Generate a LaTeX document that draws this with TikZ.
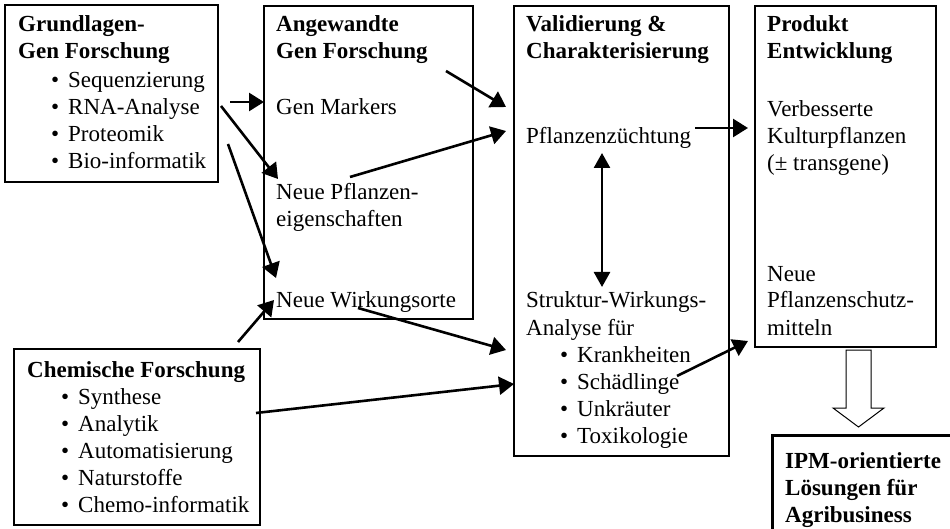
\documentclass[tikz,border=0pt]{standalone}
\usepackage{fontspec}
\setmainfont{Liberation Serif}
\usetikzlibrary{arrows.meta}
\tikzset{
  txt/.style={anchor=base west,inner sep=0pt,font=\fontsize{23}{27}\selectfont},
  btxt/.style={txt,font=\fontsize{23}{27}\selectfont\bfseries},
  boxline/.style={draw=black,line width=1.2pt},
  arr/.style={line width=2.6pt,-{Triangle[length=15pt,width=18pt]}},
  darr/.style={line width=2.6pt,{Triangle[length=15pt,width=16pt]}-{Triangle[length=15pt,width=16pt]}},
  hollow/.style={draw=black,line width=1pt,fill=white,line join=miter}
}
\begin{document}
\begin{tikzpicture}[x=1pt,y=-1pt]
\useasboundingbox (0,0) rectangle (950,529);
% boxes
\draw[boxline] (5,5) rectangle (218,182);
\draw[boxline] (264,6) rectangle (473,319);
\draw[boxline] (514,6) rectangle (729,456);
\draw[boxline] (755,6) rectangle (936,347);
\draw[boxline] (14,349) rectangle (260,525);
\begin{scope}
\clip (0,0) rectangle (950,529);
\draw[draw=black,line width=3pt] (772,435) rectangle (970,560);
\end{scope}
% box 1
\node[btxt] (g1) at (18,32) {Grundlagen-};
\node[btxt] (g2) at (18,59) {Gen Forschung};
\foreach \t/\y [count=\i] in {Sequenzierung/88,RNA-Analyse/115,Proteomik/142,Bio-informatik/169}{
  \node[txt] (gb\i) at (51,\y) {•};
  \node[txt] (gi\i) at (68,\y) {\t};
}
% box 2
\node[btxt] (a1) at (276,32) {Angewandte};
\node[btxt] (a2) at (276,59) {Gen Forschung};
\node[txt] (gm) at (276,115) {Gen Markers};
\node[txt] (np1) at (276,200) {Neue Pflanzen-};
\node[txt] (np2) at (276,227) {eigenschaften};
\node[txt] (nw) at (276,308) {Neue Wirkungsorte};
% box 3
\node[btxt] (v1) at (526,32) {Validierung \&};
\node[btxt] (v2) at (526,59) {Charakterisierung};
\node[txt] (pz) at (526,144) {Pflanzenzüchtung};
\node[txt] (sw1) at (526,308) {Struktur-Wirkungs-};
\node[txt] (sw2) at (526,335) {Analyse für};
\foreach \t/\y [count=\i] in {Krankheiten/362,Schädlinge/389,Unkräuter/416,Toxikologie/443}{
  \node[txt] (vb\i) at (560,\y) {•};
  \node[txt] (vi\i) at (577,\y) {\t};
}
% box 4
\node[btxt] (p1) at (767,32) {Produkt};
\node[btxt] (p2) at (767,59) {Entwicklung};
\node[txt] (k1) at (767,117) {Verbesserte};
\node[txt] (k2) at (767,144) {Kulturpflanzen};
\node[txt] (k3) at (767,171) {(± transgene)};
\node[txt] (ps1) at (767,282) {Neue};
\node[txt] (ps2) at (767,308) {Pflanzenschutz-};
\node[txt] (ps3) at (767,335) {mitteln};
% box 5
\node[btxt] (c0) at (27,377) {Chemische Forschung};
\foreach \t/\y [count=\i] in {Synthese/404,Analytik/431,Automatisierung/458,Naturstoffe/485,Chemo-informatik/512}{
  \node[txt] (cb\i) at (61,\y) {•};
  \node[txt] (ci\i) at (78,\y) {\t};
}
% box 6
\node[btxt] (i1) at (785,468) {IPM-orientierte};
\node[btxt] (i2) at (785,495) {Lösungen für};
\node[btxt] (i3) at (785,522) {Agribusiness};
% arrow end points
\coordinate (s1) at (230,102); \coordinate (e1) at (264,102);
\coordinate (s2) at (221,106); \coordinate (e2) at (278,179);
\coordinate (s3) at (228,144); \coordinate (e3) at (276,278);
\coordinate (s4) at (446,71);  \coordinate (e4) at (506,107);
\coordinate (s5) at (350,177); \coordinate (e5) at (506,131);
\coordinate (s6) at (695,128); \coordinate (e6) at (748,128);
\coordinate (s7) at (602,153); \coordinate (e7) at (602,287);
\coordinate (s8) at (238,342); \coordinate (e8) at (274,300);
\coordinate (s9) at (358,308); \coordinate (e9) at (506,350);
\coordinate (s10) at (256,413); \coordinate (e10) at (514,384);
\coordinate (s11) at (677,376); \coordinate (e11) at (748,341);
\draw[arr] (s1) -- (e1);
\draw[arr] (s2) -- (e2);
\draw[arr] (s3) -- (e3);
\draw[arr] (s4) -- (e4);
\draw[arr] (s5) -- (e5);
\draw[arr] (s6) -- (e6);
\draw[darr] (s7) -- (e7);
\draw[arr] (s8) -- (e8);
\draw[arr] (s9) -- (e9);
\draw[arr] (s10) -- (e10);
\draw[arr] (s11) -- (e11);
% hollow arrow
\draw[hollow] (846,350) -- (871,350) -- (871,408) -- (884,408) -- (858.5,427) -- (833,408) -- (846,408) -- cycle;
\end{tikzpicture}
\end{document}
